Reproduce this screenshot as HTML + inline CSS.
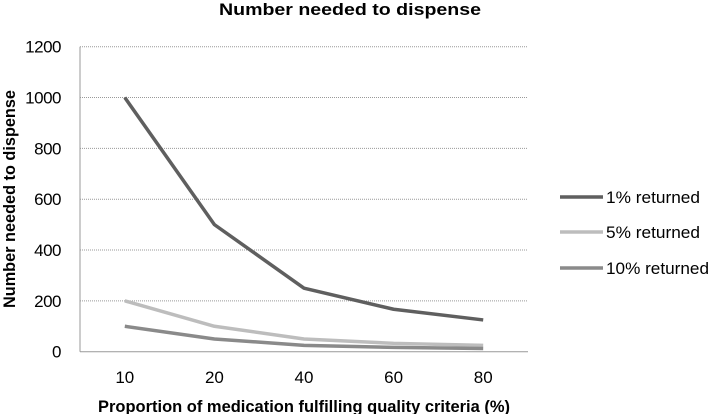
<!DOCTYPE html>
<html><head><meta charset="utf-8"><style>
body{margin:0;background:#fff;}
svg{display:block;font-family:"Liberation Sans",sans-serif;}
</style></head><body>
<svg id="c" width="709" height="414">
<text x="350" y="15" text-anchor="middle" font-weight="bold" font-size="17" textLength="262" lengthAdjust="spacingAndGlyphs">Number needed to dispense</text>
<text transform="translate(15,199) rotate(-90)" text-anchor="middle" font-weight="bold" font-size="17" textLength="218" lengthAdjust="spacingAndGlyphs">Number needed to dispense</text>
<text x="304" y="412" text-anchor="middle" font-weight="bold" font-size="17" textLength="412" lengthAdjust="spacingAndGlyphs">Proportion of medication fulfilling quality criteria (%)</text>
<g id="grid"></g><g id="series"></g><g id="legend"></g>
</svg>
<script>
const categories=["10","20","40","60","80"];
const yTicks=[0,200,400,600,800,1000,1200];
const s1=[1000,500,250,167,125];
const s5=[200,100,50,33,25];
const s10=[100,50,25,17,12.5];
const seriesNames=["1% returned","5% returned","10% returned"];
const NS="http://www.w3.org/2000/svg";
const L=80,R=528,T=46.7,B=351.7;
const band=(R-L)/categories.length;
const x=i=>L+band*(i+0.5);
const y=v=>B-(v/1200)*(B-T);
function mk(tag,attrs,parent){const e=document.createElementNS(NS,tag);for(const k in attrs)e.setAttribute(k,attrs[k]);parent.appendChild(e);return e;}
const grid=document.getElementById('grid');
yTicks.forEach(t=>{
  if(t>0){const g=mk('line',{x1:L,x2:R,y1:y(t),y2:y(t),stroke:'#999','stroke-width':1,'stroke-dasharray':'1,1'},grid);
  
  }
  const tx=mk('text',{x:61,y:y(t)+6,'text-anchor':'end','font-size':17,style:'letter-spacing:-0.5px'},grid);tx.textContent=t;
  
  
});
const ax=mk('line',{x1:L,x2:L,y1:T,y2:B,stroke:'#999'},grid);


const bx=mk('line',{x1:L,x2:R,y1:B,y2:B,stroke:'#999'},grid);


categories.forEach((c,i)=>{const t=mk('text',{x:x(i),y:383,'text-anchor':'middle','font-size':17},grid);t.textContent=c;
  
  });
const data=[s1,s5,s10],cols=["#5f5f5f","#bdbdbd","#8a8a8a"];
const sg=document.getElementById('series'),lg=document.getElementById('legend');
const legY=[197,232,268];
data.forEach((d,k)=>{
  const p=mk('polyline',{points:d.map((v,i)=>x(i)+','+y(v)).join(' '),fill:'none',stroke:cols[k],'stroke-width':3.5,'stroke-linejoin':'round'},sg);
  
  
  const g=mk('g',{},lg);
  
  
  mk('line',{x1:560,x2:603,y1:legY[k],y2:legY[k],stroke:cols[k],'stroke-width':3.5},g);
  const t=mk('text',{x:606,y:legY[k]+6,'font-size':17,textLength:k===2?103:94,lengthAdjust:'spacingAndGlyphs'},g);t.textContent=seriesNames[k];
});
</script>
</body></html>
